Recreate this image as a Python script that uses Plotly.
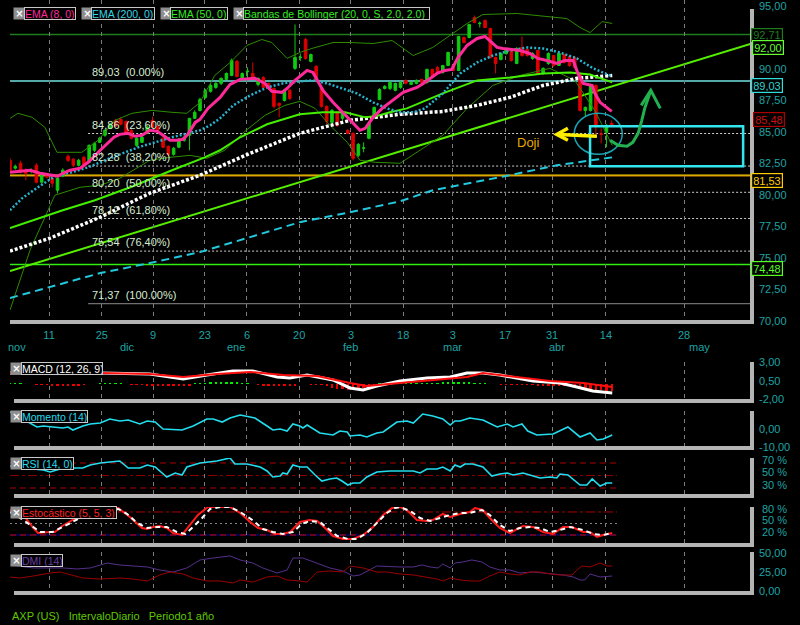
import plotly.graph_objects as go

# ---------------- DATA ----------------
opens = [82.74,82.11,82.50,81.95,81.85,82.34,81.00,81.55,81.31,80.36,
         81.47,83.05,82.82,82.34,82.97,82.58,83.53,84.16,84.72,85.27,
         85.90,85.98,85.82,85.11,83.92,84.16,84.87,85.90,85.43,84.48,
         83.85,83.21,83.77,84.32,84.72,86.06,86.69,87.72,88.20,88.51,
         88.83,89.15,89.46,90.57,89.15,89.76,89.62,88.75,89.30,88.83,
         88.43,87.25,87.48,88.28,90.02,90.87,92.31,90.57,90.17,88.43,
         87.01,85.74,86.54,86.06,85.11,84.87,83.13,83.69,84.48,86.14,
         87.56,88.43,88.43,88.28,88.51,89.07,88.75,88.83,89.15,88.91,
         89.94,90.10,89.70,90.25,90.25,89.86,92.47,92.47,94.05,93.56,
         93.81,93.18,90.89,90.73,91.20,91.52,90.41,91.68,91.52,90.81,
         91.44,89.62,90.41,91.04,90.25,91.12,90.97,90.89,89.62,86.69,
         86.69,88.67,84.83,84.95,85.66]
closes = [81.95,82.26,81.79,81.71,81.90,81.00,81.55,81.39,80.92,81.31,
          81.95,82.74,82.34,82.74,82.26,83.92,84.08,84.48,85.11,85.59,
          85.43,85.59,84.87,84.48,84.48,84.56,85.35,85.35,85.11,83.77,
          83.21,83.69,84.40,84.56,86.06,86.54,87.56,88.28,88.67,88.83,
          89.23,89.62,90.65,89.38,89.62,89.80,89.23,89.23,88.51,88.43,
          87.01,87.09,88.20,87.64,90.89,90.91,90.81,91.12,89.15,87.01,
          85.82,86.69,85.51,86.54,84.87,82.89,84.00,83.72,85.66,86.93,
          88.35,88.59,88.91,88.83,88.91,88.83,88.91,89.07,88.91,89.94,
          89.46,89.62,90.25,91.28,89.86,92.55,92.07,93.50,93.66,93.60,
          93.26,90.89,90.41,91.20,91.52,90.65,91.60,91.04,91.04,91.20,
          89.62,90.02,91.20,90.25,91.20,90.49,90.25,90.10,86.69,86.93,
          88.67,85.51,84.79,85.51,85.48]
highs = [82.9,82.4,82.7,82.1,82.1,82.5,81.7,81.7,81.45,81.4,
         82.1,83.2,82.9,82.85,83.1,84.0,84.2,84.6,85.2,85.7,
         86.0,86.14,85.9,85.2,84.6,84.7,85.5,86.2,85.5,84.6,
         83.9,83.8,84.5,84.7,86.1,86.7,87.7,88.4,88.8,88.95,
         89.3,89.7,90.8,90.7,89.7,90.1,90.49,89.3,89.4,88.9,
         88.5,87.33,88.3,88.4,93.5,91.2,92.45,91.2,90.3,88.5,
         87.1,86.8,86.6,86.6,85.2,84.95,84.1,84.16,85.8,87.0,
         88.45,88.7,89.0,88.9,89.0,89.15,89.0,89.15,89.2,90.0,
         90.0,90.2,90.3,91.35,90.3,92.6,92.55,93.55,94.21,93.73,
         93.9,93.25,90.95,91.3,91.6,91.6,91.7,92.55,91.6,91.3,
         91.5,90.1,91.3,91.1,91.3,91.2,91.05,90.95,89.7,87.0,
         88.8,88.75,85.27,85.6,85.9]
lows = [81.8,82.0,81.7,81.16,81.7,80.9,80.9,81.3,80.6,80.13,
        81.4,82.6,82.2,82.25,82.1,82.5,83.4,84.1,84.6,85.2,
        85.3,85.5,84.8,84.4,83.8,84.1,84.8,85.3,85.0,83.7,
        83.1,83.1,83.7,84.2,83.53,86.0,86.6,87.6,88.1,88.4,
        88.7,89.1,89.4,89.3,89.0,89.07,89.15,88.6,88.4,88.3,
        86.85,86.14,87.4,87.5,89.9,90.6,90.7,90.5,89.0,86.9,
        85.6,85.6,85.4,85.9,84.8,82.74,83.0,83.37,84.4,86.0,
        87.5,88.35,88.3,88.2,88.4,88.75,88.7,88.75,88.8,88.8,
        89.4,89.5,89.6,90.2,89.8,89.8,92.0,92.4,93.6,93.26,
        93.2,90.8,89.62,90.65,91.1,90.55,90.35,90.95,90.95,90.7,
        89.55,89.5,90.3,90.15,90.2,90.4,90.15,90.0,86.6,86.14,
        86.6,84.72,84.08,83.77,85.4]
candle_idx = list(range(len(closes)))

ema8_x = [0,1.9,3.8,5.7,7.6,9.1,10,11.4,13.3,14.8,17.1,18.6,19.7,20.8,22.4,23.7,25,26.5,27.9,29,
          30.3,31.6,32.8,33.7,35.1,36,37.5,39.8,41.7,43.6,46.4,48.3,49.6,51.5,52.5,54,56.3,57.4,58.4,59.3,
          61.2,63.9,66.3,67.3,68.8,70.5,72.4,74.5,77.1,78.3,80.9,82.4,83.7,84.9,86.6,88.5,90,90.9,92.3,93.4,
          94.7,96.6,98.5,100,101.7,103.6,105.1,106.7,107.6,108.6,110.3,110.8,111.8,113.1,114]
ema8_y = [81.79,81.87,81.95,81.71,81.55,81.47,81.71,81.95,82.11,82.58,83.53,84.16,84.56,84.79,84.87,84.64,84.72,85.11,85.03,84.72,
          84.32,84.32,84.40,84.79,85.74,85.98,86.85,87.72,88.75,89.15,89.23,88.83,88.20,88.12,88.43,89.07,89.86,89.70,88.91,88.28,
          87.33,86.14,85.11,85.27,86.14,86.85,87.48,88.12,88.51,88.83,89.62,89.86,89.94,90.89,91.84,92.39,92.55,92.23,91.68,91.60,
          91.52,91.44,91.20,90.81,90.65,90.41,90.65,90.65,89.62,88.83,88.67,88.04,87.33,86.93,86.61]

bbmid_x = [0,2.3,5.3,8.5,11.7,14.8,18.0,21.2,24.3,27.5,30.7,33.7,36.0,37.9,39.8,42.3,45.5,48.7,51.7,54.9,
           57.4,60.1,62.5,65.7,68.8,71.4,73.9,76.4,78.6,82.0,85.3,88.5,91.5,94.7,98.0,101.0,104.2,107.4,110.5,114.1]
bbmid_y = [78.78,79.73,80.60,81.47,81.79,82.18,82.74,83.29,83.77,84.16,84.56,84.87,85.11,85.51,86.06,87.09,87.88,88.51,88.83,88.99,
           89.07,88.83,88.51,88.04,87.33,86.85,86.54,86.54,86.85,88.04,89.62,90.49,91.04,91.44,91.68,91.60,91.28,90.81,90.02,89.38]

bbup_x = [0,1.5,4.2,6.6,8.9,13.6,16.7,19.9,23.1,26.9,30.7,33.5,36.0,38.8,41.7,44.9,47.7,49.6,52.5,54.9,
          57.2,61.2,64.4,68.8,72.4,76.4,80.1,83.4,86.6,89.6,96.1,105.5,108.0,109.9,112.2,114.1]
bbup_y = [86.06,86.46,86.14,85.35,83.37,83.37,84.32,85.90,86.46,86.69,86.54,86.46,87.33,89.46,90.49,91.84,92.31,92.07,90.81,91.28,
          91.60,92.07,92.07,91.99,92.23,91.04,91.68,92.63,93.58,94.29,94.37,93.97,93.26,92.86,93.73,93.58]

bblo_x = [0,3.8,8.5,13.3,17.1,20.8,26.5,30.3,34.1,37.3,40.7,44.5,48.3,52.1,54.9,57.8,60.6,63.9,66.3,69.2,
          73.9,77.7,82.0,86.6,91.5,96.6,102.3,107.0,110.8,114.1]
bblo_y = [70.87,75.62,79.97,80.60,80.76,81.31,82.74,82.97,83.13,82.89,83.53,85.03,86.30,87.09,87.41,86.85,85.51,84.16,82.74,82.58,
          82.50,83.53,84.72,86.85,88.67,89.46,90.02,89.07,86.69,83.92]

ema50_x = [0,7.6,10.0,16.1,23.3,30.7,36.9,39.8,43.6,48.7,54.9,59.3,63.5,67.3,69.2,72.0,75.2,82.0,88.5,94.7,101.0,106.1,109.9,114.1]
ema50_y = [77.36,78.47,78.78,79.57,80.68,81.95,82.97,83.53,84.56,85.59,86.38,86.54,86.54,86.14,86.22,86.54,86.85,88.04,89.07,89.30,89.62,89.70,89.54,88.91]

ema100_x = [0,7.6,17.1,26.5,36.0,45.5,54.9,64.4,73.9,82.0,88.5,94.7,101.0,107.4,114.1]
ema100_y = [75.54,76.57,78.23,80.13,81.55,83.29,84.87,85.90,86.38,86.61,87.09,87.72,88.67,89.23,89.46]

ema200_x = [0,7.6,17.1,26.5,36.0,45.5,54.9,64.4,73.9,80.1,92.8,103.6,114.1]
ema200_y = [71.82,72.69,73.80,74.59,75.46,76.65,77.83,78.62,79.49,80.36,81.39,82.34,82.97]

macd_x = [0,6.3,17.1,26.5,32.8,37.3,42.2,46,50.6,53,56.3,61.2,64.4,66.9,69.5,73.9,79,83.4,86.6,89.6,92.8,99.1,104.2,107.4,110.4,114.1]
macd_y = [1.51,1.51,1.51,1.38,0.70,1.24,1.78,1.78,0.97,0.84,1.24,0.57,-0.51,-0.78,-0.24,0.43,0.84,0.97,1.51,1.51,1.24,0.43,0.16,-0.38,-0.92,-1.19]
signal_x = [0,17.1,26.5,32.8,39.2,45.5,51.7,58.2,64.4,67.6,73.9,80.1,86.6,89.6,96.1,102.3,108.6,114.1]
signal_y = [1.51,1.51,1.38,0.97,1.38,1.65,1.24,1.11,0.16,-0.24,0.16,0.57,0.97,1.51,0.97,0.43,0.16,-0.38]
macd_hist = [0.15,0.15,0.15,0,0,
             -0.1,-0.1,-0.15,-0.2,-0.2,-0.25,-0.25,-0.2,-0.2,-0.15,
             0,0,
             0.1,0.12,0.12,0.12,0.1,
             0,
             -0.1,-0.1,-0.15,-0.2,-0.2,
             -0.25,-0.3,-0.3,-0.3,-0.3,-0.25,-0.2,
             0.15,0.2,0.2,0.25,0.25,0.25,0.3,0.3,0.25,0.2,0.15,
             0,
             -0.15,-0.25,-0.3,-0.3,-0.3,-0.3,-0.25,-0.2,
             0,0,
             -0.1,-0.1,-0.15,-0.3,-0.45,-0.6,
             -0.7,-0.75,-0.7,-0.6,-0.5,-0.35,-0.2,
             0.1,0.12,0.15,0.2,0.2,0.2,0.2,0.2,0.2,0.2,0.2,0.2,0.25,0.25,0.3,0.3,0.3,0.25,0.2,0.15,0.1,
             0,0,
             -0.1,-0.1,-0.1,-0.1,-0.1,-0.15,-0.15,-0.2,-0.2,-0.25,-0.25,-0.3,-0.3,-0.3,-0.4,-0.5,-0.6,-0.7,-0.8,-0.8,-0.9,-0.9]

mom_x = [0,3.4,5.1,6.3,8.1,10.0,11.0,11.9,13.8,15.2,17.1,18.9,20.8,22.4,24.6,26.0,27.5,29.0,32.6,34.7,
         37.3,38.5,40.2,41.7,43.6,45.1,46.4,48.7,49.8,51.2,52.5,53.6,54.9,55.5,56.3,58.7,61.2,62.5,63.9,64.4,
         66.3,67.6,69.5,70.7,73.3,75.2,76.4,78.2,80.1,82.0,83.4,84.3,85.3,87.1,89.6,92.3,94.2,95.3,97.0,98.1,
         99.8,102.9,105.7,108.0,109.9,111.2,112.4,114.1]
mom_y = [8.92,3.51,0.81,1.35,0.81,0.27,0.81,-0.81,1.35,2.43,2.97,5.14,4.05,4.60,2.43,4.05,3.51,-0.27,-0.81,1.35,
         5.14,5.14,3.51,5.68,7.30,6.22,5.68,1.35,-0.81,-0.27,-1.35,2.43,1.35,0.27,1.89,-2.43,-3.51,-1.35,-1.89,-4.05,
         -3.51,-4.59,-2.43,-1.89,3.51,4.05,2.97,7.84,6.76,5.14,1.89,4.05,4.05,5.68,4.60,0.81,2.43,0.81,2.43,-1.35,
         -3.51,-2.97,0.81,-4.59,-2.43,-6.22,-5.67,-3.51]

rsi_x = [0,2.3,4.4,6.3,7.6,9.5,11.9,13.8,15.2,17.1,18.9,20.8,22.4,24.6,26.0,27.5,29.7,31.3,32.6,33.5,
         36.0,37.3,39.2,41.7,42.6,44.9,47.4,48.7,49.8,51.2,51.7,52.5,53.6,54.9,56.3,57.8,59.1,60.6,61.9,62.9,
         64.0,65.0,66.3,67.6,69.5,72.0,76.4,77.7,79.0,80.9,82.0,83.4,84.3,85.3,86.2,87.7,89.6,91.3,92.8,94.2,
         95.3,97.2,99.1,100.4,102.3,103.6,104.2,105.7,108.0,109.3,110.3,111.8,113.1,114.1]
rsi_y = [65.2,62,60.4,58.8,55.6,60.4,62,62,66.8,70,71.6,73.2,62,62,66.8,63.6,47.6,54,50.8,63.6,
         70,71.6,73.2,78,68.4,68.4,63.6,57.2,47.6,49.2,54,52.4,66.8,63.6,63.6,50.8,41.2,44.4,46,41.2,
         34.8,38,38,47.6,55.6,57.2,57.2,54,60.4,60.4,63.6,57.2,66.8,63.6,68.4,68.4,63.6,49.2,52.4,54,
         50.8,54,49.2,46,47.6,46,52.4,50.8,34.8,34.8,44.4,33.2,38,38]

stk_x = [0,2.5,4.4,5.3,7.6,8.5,9.9,11.9,14.6,17.1,18.9,20.5,22.7,25.0,26.0,27.1,28.4,29.7,30.9,32.6,
         34.1,35.6,37.5,39.8,41.7,43.6,45.5,47.0,48.7,50.2,51.7,53.1,54.9,56.8,58.2,59.7,61.2,63.1,65.0,66.9,
         68.8,70.7,72.4,73.9,75.2,77.1,79.0,80.1,82.0,83.4,85.3,87.1,88.1,89.6,90.9,92.8,94.7,97.2,99.1,101.0,
         102.9,104.8,106.5,108.6,109.9,111.2,112.4,114.1]
stk_y = [85.2,72.2,38.3,25.2,27.8,27.8,43.5,59.1,77.4,87.8,93,90.4,67.0,38.3,35.6,40.9,43.5,38.3,25.2,20.0,
         46.1,72.2,93,93,93,77.4,53.9,38.3,33.0,22.6,22.6,27.8,53.9,59.1,56.5,38.3,17.4,9.6,9.6,20.0,
         40.9,72.2,90.4,93,85.2,59.1,56.5,59.1,74.8,67.0,74.8,80,90.4,85.2,64.3,38.3,25.2,43.5,40.9,27.8,
         22.6,40.9,40.9,27.8,27.8,14.8,20.0,25.2]
std_x = [0,2.5,4.4,5.7,8.1,10.0,13.3,17.1,20.5,22.2,24.1,26.0,27.9,29.7,31.6,33.2,34.7,36.4,37.9,39.8,
         41.7,43.6,45.9,47.9,49.8,51.7,53.6,55.3,56.8,58.7,60.2,62.0,64.0,65.7,67.6,69.5,71.4,72.9,73.9,75.8,
         77.7,79.6,81.5,83.4,85.3,87.1,89.4,90.9,92.8,94.7,96.6,98.5,100.4,102.3,104.2,106.1,108.6,110.5,112.4,114.1]
std_y = [80,59.1,40.9,27.8,27.8,40.9,64.3,82.6,87.8,74.8,51.3,38.3,40.9,40.9,27.8,22.6,40.9,64.3,87.8,93,
         93,80,59.1,35.6,27.8,22.6,27.8,48.7,56.5,53.9,38.3,17.4,9.6,9.6,25.2,51.3,77.4,90.4,93,82.6,
         64.3,56.5,64.3,72.2,77.4,77.4,85.2,72.2,46.1,30.4,38.3,40.9,38.3,27.8,33.0,40.9,33.0,22.6,20.0,25.2]

dip_x = [0,4.4,10.0,12.7,15.2,17.1,18.4,20.8,23.3,26.0,28.4,30.9,33.5,36.0,38.5,41.7,43.6,46.0,47.9,50.6,
         52.5,53.6,55.5,58.2,60.6,63.1,65.0,66.3,69.5,73.9,76.4,78.1,79.6,81.1,82.0,83.4,84.3,85.8,87.5,89.4,
         90.9,92.8,94.7,96.6,99.1,101.0,102.9,104.8,106.7,108.0,108.9,109.9,111.8,114.1]
dip_y = [34.2,30.3,30.3,29.0,30.3,34.2,36.8,34.2,32.9,31.6,27.6,25.0,30.3,40.8,43.4,46.1,40.8,36.8,30.3,23.7,
         27.6,43.4,43.4,36.8,30.3,26.3,19.7,21.1,32.9,31.6,31.6,34.2,31.6,30.3,35.5,30.3,36.8,38.2,40.8,38.2,
         31.6,27.6,27.6,23.7,25.0,23.7,22.4,21.1,18.4,14.5,14.5,22.4,18.4,19.7]
dim_x = [0,1.9,4.4,7.6,9.5,11.4,13.8,17.1,20.8,23.3,26.0,28.4,30.3,32.8,34.7,37.3,39.8,42.3,43.6,46.0,
         48.7,50.6,52.5,54.9,56.3,58.2,60.6,63.1,64.4,66.9,69.5,71.4,73.9,76.4,79.0,80.9,82.0,83.4,85.3,87.2,
         89.0,90.9,92.8,94.7,96.6,98.5,100.4,102.3,104.2,106.5,107.4,108.4,109.9,111.8,113.1,114.1]
dim_y = [18.4,17.1,19.7,23.7,25.0,21.1,17.1,15.8,17.1,15.8,13.2,21.1,25.0,22.4,17.1,13.2,13.2,10.5,14.5,11.8,
         18.4,19.7,14.5,13.2,11.8,25.0,26.3,25.0,32.9,30.3,25.0,25.0,22.4,21.1,18.4,15.8,13.2,17.1,14.5,13.2,
         13.2,19.7,25.0,22.4,21.1,25.0,25.0,22.4,21.1,21.1,27.6,32.9,31.6,36.8,32.9,32.9]

day_ticks = [7.4,17.4,27.1,36.9,44.9,54.8,64.6,74.5,83.9,93.8,102.7,112.9,127.7]
day_labels = ["11","25","9","23","6","20","3","18","3","17","31","14","28"]
month_pos = [1.4,22.2,42.8,64.6,83.9,103.6,130.7]
month_labels = ["nov","dic","ene","feb","mar","abr","may"]

fib_levels = [89.03,84.86,82.28,80.20,78.12,75.54,71.37]
fib_pct = ["(0.00%)","(23,60%)","(38,20%)","(50,00%)","(61,80%)","(76,40%)","(100.00%)"]
level_9271, level_8903, level_8153, level_7448 = 92.71, 89.03, 81.53, 74.48
last_close = 85.48
trend_line = [(0, 73.96), (140.58, 92.00)]

price_ticks = [95, 90, 87.5, 85, 82.5, 80, 77.5, 75, 72.5, 70]
macd_ticks = [3, 0.5, -2]
mom_ticks = [10, 0, -10]
rsi_ticks = [70, 50, 30]
sto_ticks = [80, 50, 20]
dmi_ticks = [50, 25, 0]

# hand drawn marks
yellow_arrow = [(111.2, 84.64), (104.0, 84.79)]
yellow_head = [(105.7, 85.27), (103.6, 84.79), (105.7, 84.32)]
green_curve = [(113.7,84.32),(115.2,83.92),(116.9,83.85),(118.0,84.16),(119.0,84.87),(119.7,85.90),(120.3,86.93),(121.1,87.88),(121.4,88.28)]
green_head = [(119.6,87.09),(121.4,88.28),(123.2,86.85)]
circle_box = (106.9, 83.21, 116.0, 86.46)
target_box = (109.9, 82.26, 138.9, 85.43)
doji_pos = (98.3, 84.16)

# ---------------- LAYOUT HELPERS ----------------
W, H = 800, 625
ML, MR = 10, 48
PW = W - ML - MR
XMAX = 140.58
FONT = "Liberation Sans"
TEAL = "#1fa3a3"
GRAY = "#b4b4b4"

def pxx(px):
    return (px - ML) / PW

def pyy(py):
    return 1 - py / H

def fmt(v):
    return f"{v:.2f}".replace(".", ",")

fig = go.Figure()

def line(x, y, color, width, dash=None, ax=""):
    fig.add_trace(go.Scatter(x=x, y=y, mode="lines", xaxis="x" + ax, yaxis="y" + ax,
                             line=dict(color=color, width=width, dash=dash),
                             hoverinfo="skip", showlegend=False))

# main panel overlays
line(bbup_x, bbup_y, "#2e8c00", 1)
line(bblo_x, bblo_y, "#2e8c00", 1)
line(ema200_x, ema200_y, "#22c8dc", 2, "8px,5px")
line(ema100_x, ema100_y, "#ffffff", 3.5, "3px,2px")
line(ema50_x, ema50_y, "#44ee00", 2)
line(bbmid_x, bbmid_y, "#28b4d0", 2.5, "2px,2px")

fig.add_trace(go.Candlestick(x=candle_idx, open=opens, high=highs, low=lows, close=closes,
                             increasing=dict(line=dict(color="#11cc11", width=1), fillcolor="#11cc11"),
                             decreasing=dict(line=dict(color="#dd0000", width=1), fillcolor="#dd0000"),
                             whiskerwidth=0, hoverinfo="skip", showlegend=False, xaxis="x", yaxis="y"))
line(ema8_x, ema8_y, "#ff2a9a", 3)

# MACD
fig.add_trace(go.Bar(x=candle_idx, y=macd_hist, width=0.45, xaxis="x2", yaxis="y2",
                     marker=dict(color=["#00ee00" if v > 0 else "#ee0000" for v in macd_hist], line_width=0),
                     hoverinfo="skip", showlegend=False))
line(macd_x, macd_y, "#ffffff", 3, ax="2")
line(signal_x, signal_y, "#ff1010", 2, ax="2")
# Momentum
line(mom_x, mom_y, "#22ddee", 1.6, ax="3")
# RSI
line(rsi_x, rsi_y, "#22ddee", 1.6, ax="4")
# Stochastic
line(stk_x, stk_y, "#ff1a1a", 2, ax="5")
line(std_x, std_y, "#ffffff", 2, "5px,4px", ax="5")
# DMI
line(dip_x, dip_y, "#54308a", 1, ax="6")
line(dim_x, dim_y, "#9a0000", 1, ax="6")

# ---------------- AXES ----------------
panels = [  # (suffix, top px, bottom px, range)
    ("", 0, 321, [70, 95.44]),
    ("2", 362, 400, [-2.135, 3.0]),
    ("3", 411, 447, [-10, 9.46]),
    ("4", 458, 495, [18.8, 78]),
    ("5", 507, 544, [-3.5, 93]),
    ("6", 552, 592, [-1.3, 51.3]),
]
lay = {}
for suf, top, bot, rng in panels:
    lay["yaxis" + suf] = dict(domain=[pyy(bot), pyy(top)], range=rng, showgrid=False, zeroline=False,
                              showticklabels=False, showline=False, fixedrange=True)
    xa = dict(range=[0, XMAX], anchor="y" + suf, showgrid=True, gridcolor="#7c7c7c", gridwidth=1,
              griddash="4px,4px", zeroline=False, showline=False, ticks="",
              tickvals=day_ticks, ticktext=day_labels, showticklabels=(suf == ""),
              tickfont=dict(family=FONT, size=11, color=TEAL))
    if suf != "":
        xa["matches"] = "x"
    else:
        xa["rangeslider"] = dict(visible=False)
        xa["ticklabelstandoff"] = 6
    lay["xaxis" + suf] = xa

shapes = []
# grey frame bars
for suf, top, bot, rng in panels:
    left = 10 if suf == "" else 14
    tb = 9 if suf == "" else top
    shapes.append(dict(type="rect", xref="paper", yref="paper", x0=pxx(left), x1=pxx(754),
                       y0=pyy(bot + 3), y1=pyy(bot - 1), fillcolor=GRAY, line_width=0, layer="above"))
    shapes.append(dict(type="rect", xref="paper", yref="paper", x0=pxx(750), x1=pxx(754),
                       y0=pyy(bot + 3), y1=pyy(tb), fillcolor=GRAY, line_width=0, layer="above"))

def hline(y, color, width, x0=0, dash=None, yref="y", x1=XMAX):
    shapes.append(dict(type="line", xref="x", yref=yref, x0=x0, x1=x1, y0=y, y1=y,
                       line=dict(color=color, width=width, dash=dash), layer="below"))

hline(level_9271, "#1d7d1d", 1.5)
hline(level_8903, "#70e2e2", 1.5)
hline(level_8153 - 0.04, "#d98a00", 1.2)
hline(level_8153 + 0.03, "#ffcc00", 1.2)
hline(level_7448, "#33ee11", 1.5)
for lv in fib_levels[1:-1]:
    hline(lv, "#d0d0d0", 1, x0=14.8, dash="2px,2px")
hline(fib_levels[-1], "#8c8c8c", 1, x0=14.8)
shapes.append(dict(type="line", xref="x", yref="y", x0=trend_line[0][0], y0=trend_line[0][1],
                   x1=trend_line[1][0], y1=trend_line[1][1], line=dict(color="#55ee00", width=2), layer="below"))

# indicator guide lines
hline(70, "#aa0000", 1, dash="6px,4px", yref="y4", x1=115)
hline(50, "#880000", 1, dash="dashdot", yref="y4", x1=115)
hline(30, "#aa0000", 1, dash="6px,4px", yref="y4", x1=115)
hline(80, "#aa0000", 1, dash="dashdot", yref="y5", x1=115)
hline(50, "#888888", 1, dash="2px,3px", yref="y5", x1=115)
hline(20, "#0a0a99", 1, yref="y5", x1=115)
hline(20, "#cc0000", 1, dash="6px,4px", yref="y5", x1=115)

# hand drawn annotations
shapes.append(dict(type="circle", xref="x", yref="y", x0=circle_box[0], y0=circle_box[1],
                   x1=circle_box[2], y1=circle_box[3], line=dict(color="#1aa3b3", width=1.5)))
shapes.append(dict(type="rect", xref="x", yref="y", x0=target_box[0], y0=target_box[1],
                   x1=target_box[2], y1=target_box[3], line=dict(color="#33e6ee", width=2.5)))

def path(pts):
    return "M" + " L".join(f"{x},{y}" for x, y in pts)

shapes.append(dict(type="path", xref="x", yref="y", path=path(yellow_arrow), line=dict(color="#ffee00", width=3.5)))
shapes.append(dict(type="path", xref="x", yref="y", path=path(yellow_head), line=dict(color="#ffee00", width=3.5)))
shapes.append(dict(type="path", xref="x", yref="y", path=path(green_curve), line=dict(color="#22b050", width=3)))
shapes.append(dict(type="path", xref="x", yref="y", path=path(green_head), line=dict(color="#22b050", width=3)))

# ---------------- ANNOTATIONS ----------------
ann = []
def label(xp, yval, text, color, yref="paper", yshift=0, size=11, box=None, w=None, h=None):
    d = dict(xref="paper", yref=yref, x=xp, y=yval, text=text, showarrow=False, xanchor="left",
             yanchor="middle", yshift=yshift, font=dict(family=FONT, size=size, color=color))
    if box:
        d.update(bordercolor=box, borderwidth=1.2, borderpad=1, bgcolor="#000000")
    if w:
        d.update(width=w, height=h, align="left")
    ann.append(d)

# right price labels
for v in price_ticks:
    label(pxx(757), v, fmt(v), TEAL, yref="y")
label(pxx(751), level_9271, fmt(level_9271), "#1d7d1d", yref="y", yshift=-1, box="#1d7d1d", w=28, h=10)
label(pxx(752), trend_line[1][1], fmt(trend_line[1][1]), "#66ff33", yref="y", yshift=-4, box="#66ff33", w=28, h=11)
label(pxx(751), level_8903, fmt(level_8903), "#33d0d0", yref="y", yshift=-4.5, box="#33dddd", w=28, h=11)
label(pxx(753), last_close, fmt(last_close), "#cc1111", yref="y", yshift=6.5, box="#aa0000", w=28, h=11)
label(pxx(751), level_8153, fmt(level_8153), "#ffcc00", yref="y", yshift=-4.5, box="#ffcc00", w=28, h=11)
label(pxx(751), level_7448, fmt(level_7448), "#55ff22", yref="y", yshift=-4.5, box="#55ff22", w=28, h=11)

for v in macd_ticks:
    label(pxx(757), v, fmt(v), TEAL, yref="y2")
for v in mom_ticks:
    label(pxx(757), v, fmt(v), TEAL, yref="y3")
for v in rsi_ticks:
    label(pxx(760), v, f"{v} %", TEAL, yref="y4", yshift=3.5)
for v in sto_ticks:
    label(pxx(760), v, f"{v} %", TEAL, yref="y5", yshift=3)
for v in dmi_ticks:
    label(pxx(757), v, fmt(v), TEAL, yref="y6")

# fibonacci labels
for lv, pct in zip(fib_levels, fib_pct):
    ann.append(dict(xref="x", yref="y", x=15.2, y=lv, yshift=9, text=f"{fmt(lv)}&nbsp;&nbsp;{pct}",
                    showarrow=False, xanchor="left", yanchor="middle",
                    font=dict(family=FONT, size=11, color="#d6ecd2")))

# month labels
for mp, ml in zip(month_pos, month_labels):
    ann.append(dict(xref="x", yref="paper", x=mp, y=pyy(347), text=ml, showarrow=False,
                    xanchor="center", yanchor="middle", font=dict(family=FONT, size=11, color=TEAL)))

# doji text
ann.append(dict(xref="x", yref="y", x=doji_pos[0], y=doji_pos[1], text="Doji", showarrow=False,
                font=dict(family=FONT, size=13, color="#e8a800")))

# legend boxes
legends = [
    (13, 24, 50, 13, "EMA (8, 0)", "#ff2a9a"),
    (81, 91, 62, 13, "EMA (200, 0)", "#33d6e6"),
    (160, 170, 56, 13, "EMA (50, 0)", "#33ee22"),
    (233, 243, 185, 13, "Bandas de Bollinger (20, 0, S, 2.0, 2.0)", "#33ee22"),
    (10, 21, 80, 368, "MACD (12, 26, 9)", "#ffffff"),
    (10, 21, 65, 416, "Momento (14)", "#22ddee"),
    (10, 21, 51, 464, "RSI (14, 0)", "#22ddee"),
    (10, 21, 94, 512, "Estocástico (5, 5, 3)", "#ff2222"),
    (10, 21, 40, 560, "DMI (14)", "#6a3fa0"),
]
for ipx, bpx, bw, py, txt, col in legends:
    ann.append(dict(xref="paper", yref="paper", x=pxx(ipx), y=pyy(py), xanchor="left", yanchor="middle",
                    text="<b>×</b>", showarrow=False, bgcolor="#8e8e8e", width=9, height=9,
                    font=dict(family="DejaVu Sans", size=10, color="#ffffff")))
    ann.append(dict(xref="paper", yref="paper", x=pxx(bpx), y=pyy(py), xanchor="left", yanchor="middle",
                    text=txt, showarrow=False, bgcolor="#000000", bordercolor="#c8c8c8", borderwidth=1,
                    borderpad=0, width=bw, height=11, align="left",
                    font=dict(family=FONT, size=10.5, color=col)))

# footer
ann.append(dict(xref="paper", yref="paper", x=pxx(10), y=pyy(616), xanchor="left", yanchor="middle",
                text="AXP (US)&nbsp;&nbsp;&nbsp;IntervaloDiario&nbsp;&nbsp;&nbsp;Periodo1 año", showarrow=False,
                font=dict(family=FONT, size=11, color="#5fc800")))

fig.update_layout(width=W, height=H, margin=dict(l=ML, r=MR, t=0, b=0),
                  paper_bgcolor="#000000", plot_bgcolor="#000000", showlegend=False,
                  shapes=shapes, annotations=ann, bargap=0, **lay)

fig.write_html("out.html", config={"displayModeBar": False, "staticPlot": True},
               post_script="document.body.style.margin='0px';document.body.style.background='#000';")
